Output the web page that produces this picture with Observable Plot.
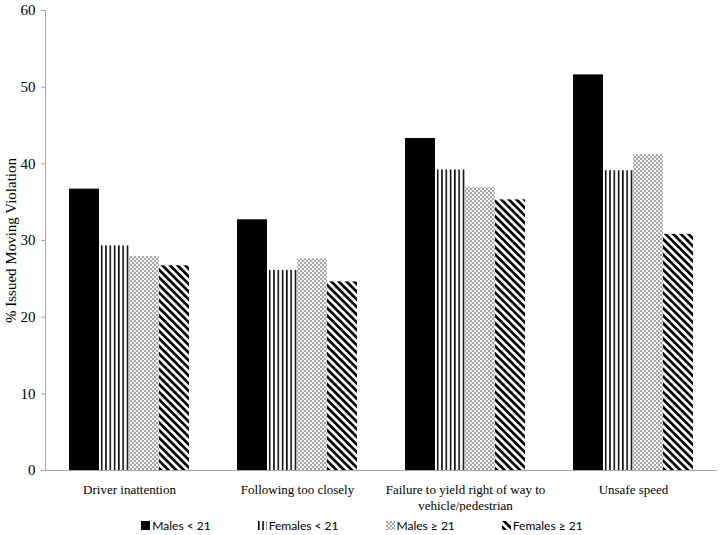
<!DOCTYPE html>
<html><head><meta charset="utf-8">
<script src="https://cdn.jsdelivr.net/npm/d3@7"></script>
<script src="https://cdn.jsdelivr.net/npm/@observablehq/plot@0.6"></script>
<style>
body{margin:0;background:#fff;}
#chart{width:724px;}
.legend{display:flex;justify-content:center;gap:47px;font-family:Lato,"Open Sans",sans-serif;font-size:12px;height:26px;align-items:center;color:#000;}
.legend .item{display:flex;align-items:center;gap:2px}
</style></head><body><div id="chart"></div>
<script>
const categories = ["Driver inattention", "Following too closely", "Failure to yield right of way to vehicle/pedestrian", "Unsafe speed"];
const tickLabels = ["Driver inattention", "Following too closely", "Failure to yield right of way to\nvehicle/pedestrian", "Unsafe speed"];
const series = ["Males < 21", "Females < 21", "Males ≥ 21", "Females ≥ 21"];
const malesUnder21 = [36.7, 32.7, 43.3, 51.6];
const femalesUnder21 = [29.3, 26.1, 39.2, 39.1];
const malesOver21 = [27.9, 27.6, 36.9, 41.2];
const femalesOver21 = [26.7, 24.6, 35.3, 30.8];
const yTicks = [0, 10, 20, 30, 40, 50, 60];
const fills = ["#000", "url(#pat-vert)", "url(#pat-dots)", "url(#pat-diag)"];

const seriesValues = [malesUnder21, femalesUnder21, malesOver21, femalesOver21];
const data = [];
categories.forEach((c, i) => series.forEach((s, j) => data.push({category: c, series: s, value: seriesValues[j][i]})));

const defs = `
<pattern id="pat-vert" patternUnits="userSpaceOnUse" width="4.3" height="10">
  <rect width="4.3" height="10" fill="#fff"/><rect x="0" width="1.5" height="10" fill="#000"/>
</pattern>
<pattern id="pat-dots" patternUnits="userSpaceOnUse" width="4" height="4">
  <rect width="4" height="4" fill="#f6f6f6"/>
  <circle cx="1" cy="1" r="0.7" fill="#111"/><circle cx="3" cy="3" r="0.7" fill="#111"/>
</pattern>
<pattern id="pat-diag" patternUnits="userSpaceOnUse" width="5.4" height="5.4" patternTransform="rotate(-45)">
  <rect width="5.4" height="5.4" fill="#fff"/><rect x="0" width="2.7" height="5.4" fill="#000"/>
</pattern>`;

const gray = "#a6a6a6";
const plot = Plot.plot({
  width: 724, height: 512,
  marginTop: 10, marginLeft: 43, marginRight: 6, marginBottom: 42,
  style: {fontFamily: "'Liberation Serif', 'Times New Roman', serif", fontSize: "14px", background: "#fff", color: "#000"},
  fx: {domain: categories, padding: 0, label: null, axis: null},
  x: {domain: series, paddingInner: 0, paddingOuter: 0.778, axis: null},
  y: {domain: [0, 60]},
  color: {domain: series, range: fills},
  marks: [
    Plot.axisFx({anchor: "bottom", tickSize: 0, tickPadding: 11, label: null, fontSize: 13, lineHeight: 1.3,
      tickFormat: d => tickLabels[categories.indexOf(d)]}),
    Plot.axisY({ticks: yTicks, tickSize: 4, tickPadding: 6, stroke: gray, fontSize: 15,
      label: "% Issued Moving Violation", labelAnchor: "center", labelArrow: "none", labelOffset: 40}),
    Plot.barY(data, {fx: "category", x: "series", y: "value", fill: "series"}),
    Plot.frame({anchor: "left", stroke: gray, facetAnchor: "left"}),
    Plot.ruleY([0], {stroke: gray})
  ]
});
d3.select(plot).insert("defs", ":first-child").html(defs);
const chart = document.getElementById("chart");
chart.appendChild(plot);

const legend = document.createElement("div");
legend.className = "legend";
series.forEach((s, j) => {
  const item = document.createElement("span");
  item.className = "item";
  item.innerHTML = `<svg width="9" height="9"><rect width="9" height="9" fill="${fills[j]}"/></svg><span>${s}</span>`;
  legend.appendChild(item);
});
chart.appendChild(legend);
</script></body></html>
